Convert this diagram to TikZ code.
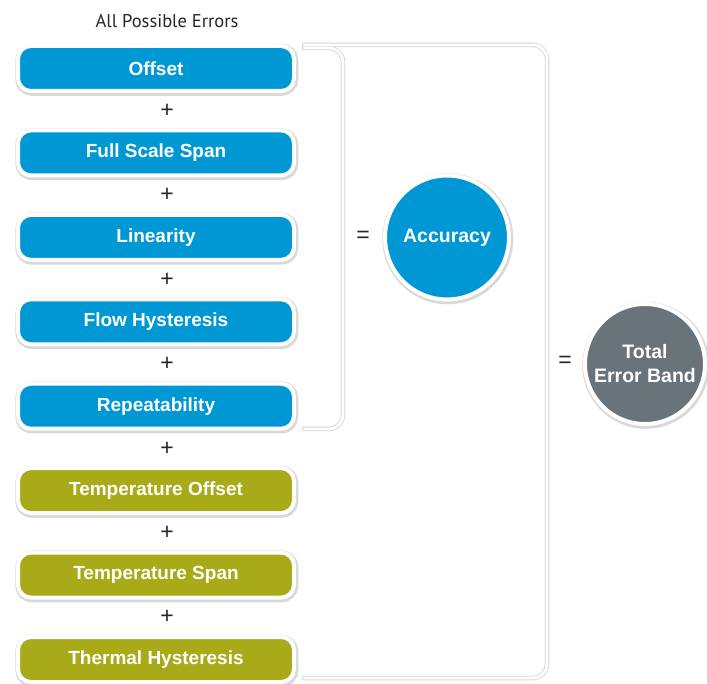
\documentclass[tikz,border=0pt]{standalone}
\usepackage{fontspec}
\setmainfont{Liberation Sans}
\newfontfamily\titlefont{PT Sans}
\usetikzlibrary{shadows}
\definecolor{errblue}{RGB}{0,152,212}
\definecolor{errolive}{RGB}{168,170,24}
\definecolor{errgrey}{RGB}{104,115,122}
\begin{document}
\begin{tikzpicture}[x=1pt,y=-1pt,
  softshadow/.style={drop shadow={shadow xshift=0.8pt,shadow yshift=-1.3pt,
    fill=black!15, draw=black!15, line width=7pt, opacity=1}},
  errbox/.style={rounded corners=13pt, minimum width=276pt, minimum height=45pt,
    draw=white, line width=4pt, text=white, inner sep=0pt,
    font=\fontsize{19}{22}\selectfont\bfseries, softshadow},
  bluebox/.style={errbox, fill=errblue},
  olivebox/.style={errbox, fill=errolive},
  titlelabel/.style={font=\titlefont\fontsize{18.5}{20}\selectfont, inner sep=0pt, text=black!85},
  oplabel/.style={font=\fontsize{23}{24}\selectfont, inner sep=0pt, text=black!85},
  resultcircle/.style={circle, draw=white, line width=4pt, text=white, inner sep=0pt,
    font=\fontsize{19.5}{24}\selectfont\bfseries, align=center, softshadow},
  bracketshade/.style={draw=black!17, line width=4.5pt, rounded corners=14pt, line cap=round},
  bracketline/.style={draw=white, line width=2.8pt, rounded corners=14pt, line cap=round}
]
\useasboundingbox (0,0) rectangle (707,684);

% brackets (drawn first, behind)
\coordinate (iA) at (304,48);
\coordinate (iB) at (343,48);
\coordinate (iC) at (343,429);
\coordinate (iD) at (304,429);
\coordinate (oA) at (304,45);
\coordinate (oB) at (547,45);
\coordinate (oC) at (547,678);
\coordinate (oD) at (304,678);
\begin{scope}[shift={(1.2,1.4)}]
  \draw[bracketshade] (oA) -- (oB) -- (oC) -- (oD);
  \draw[bracketshade] (iA) -- (iB) -- (iC) -- (iD);
\end{scope}
\draw[bracketline] (oA) -- (oB) -- (oC) -- (oD);
\draw[bracketline] (iA) -- (iB) -- (iC) -- (iD);

\node[titlelabel] (title) at (167,21) {All Possible Errors};

\node[bluebox] (e1) at (156,68.5) {Offset};
\node[bluebox] (e2) at (156,152.9) {Full Scale Span};
\node[bluebox] (e3) at (156,237.4) {Linearity};
\node[bluebox] (e4) at (156,321.8) {Flow Hysteresis};
\node[bluebox] (e5) at (156,406.2) {Repeatability};
\node[olivebox] (e6) at (156,490.6) {Temperature Offset};
\node[olivebox] (e7) at (156,575.1) {Temperature Span};
\node[olivebox] (e8) at (156,659.5) {Thermal Hysteresis};

\node[oplabel] (p1) at (167,110.7) {+};
\node[oplabel] (p2) at (167,195.1) {+};
\node[oplabel] (p3) at (167,279.6) {+};
\node[oplabel] (p4) at (167,364.0) {+};
\node[oplabel] (p5) at (167,448.4) {+};
\node[oplabel] (p6) at (167,532.9) {+};
\node[oplabel] (p7) at (167,617.3) {+};

\node[oplabel] (eq1) at (363,237) {=};
\node[resultcircle, fill=errblue, minimum size=124pt] (acc) at (447,237.5) {Accuracy};

\node[oplabel] (eq2) at (565,362) {=};
\node[resultcircle, fill=errgrey, minimum size=120pt] (teb) at (645,364) {Total\\Error Band};
\end{tikzpicture}
\end{document}
